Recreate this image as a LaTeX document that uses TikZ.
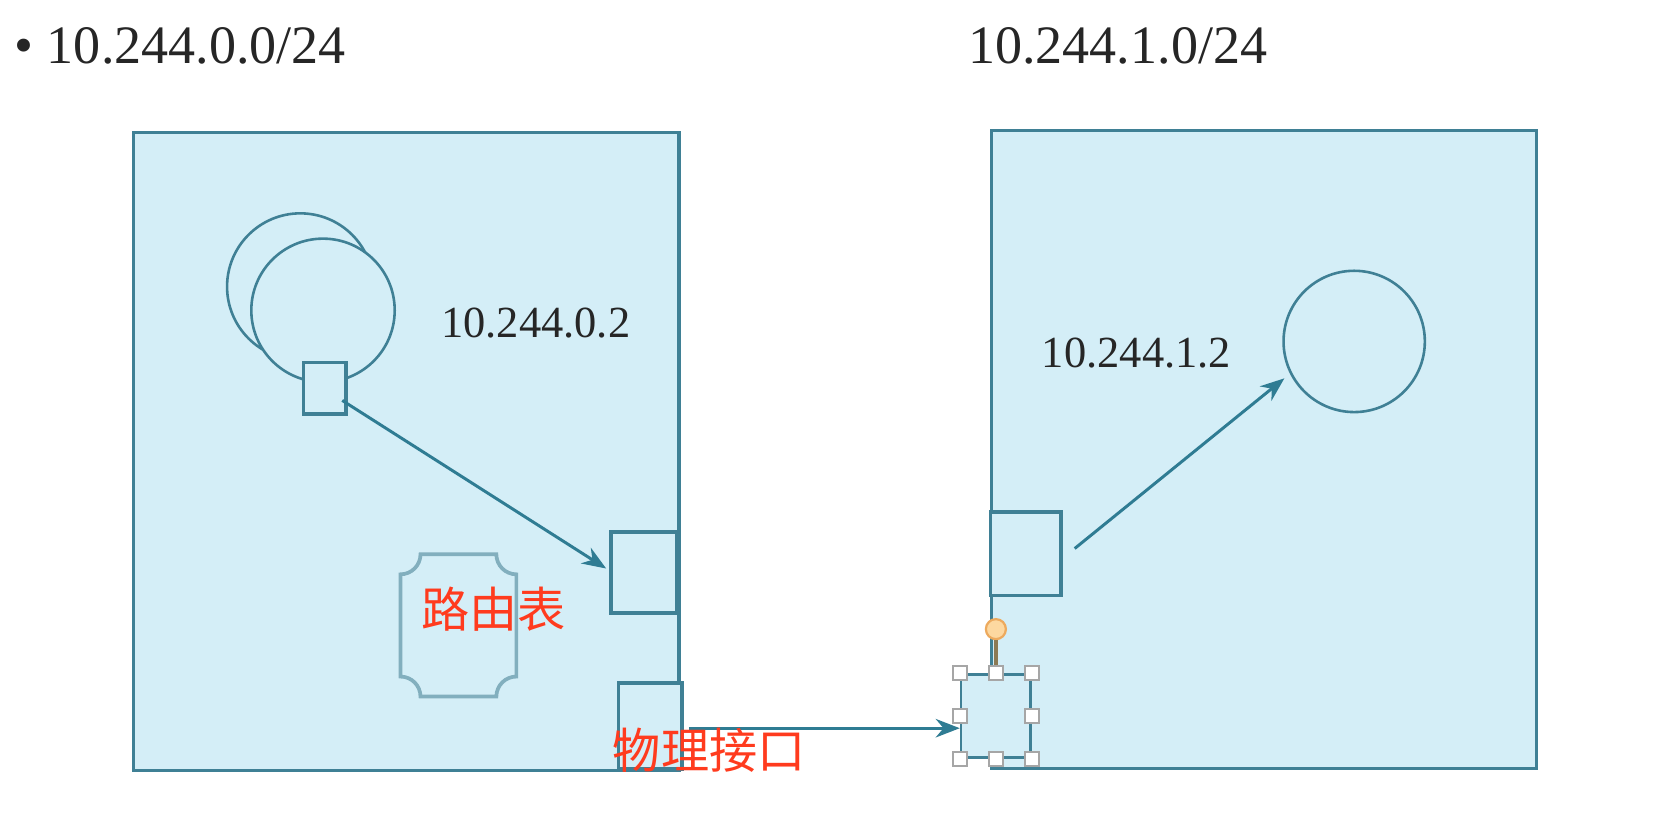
\documentclass[tikz,border=0pt]{standalone}
\usepackage{fontspec}
\setmainfont{Liberation Serif}
\newfontfamily\cjk{Noto Sans CJK SC}
\usepackage{tikz}
\usetikzlibrary{shapes.geometric, arrows.meta}
\definecolor{hostfill}{HTML}{D4EEF7}
\definecolor{hostline}{HTML}{3F8095}
\definecolor{arrowline}{HTML}{2F7C93}
\definecolor{tableline}{HTML}{82AFBE}
\definecolor{notered}{HTML}{FF3B1E}
\definecolor{knobfill}{HTML}{FDD8A0}
\definecolor{knobline}{HTML}{EDAA5E}
\definecolor{knobstem}{HTML}{8C7A55}
\tikzstyle{host} = [rectangle, 
draw=hostline, 
fill=hostfill, 
line width=0.9pt, 
minimum width=5.17cm, 
minimum height=6.05cm]
\tikzstyle{pod} = [circle, 
draw=hostline, 
fill=hostfill, 
line width=0.7pt, 
minimum size=1.36cm]
\tikzstyle{port} = [rectangle, 
draw=hostline, 
fill=hostfill, 
line width=1pt]
\tikzstyle{handle} = [rectangle, 
draw=black!35, 
fill=white, 
line width=0.5pt, 
minimum size=0.13cm, 
inner sep=0pt]
\tikzstyle{knob} = [circle, 
draw=knobline, 
fill=knobfill, 
line width=0.6pt, 
minimum size=0.19cm, 
inner sep=0pt]
\tikzstyle{subnet} = [font=\fontsize{14.6}{17}\selectfont, 
inner sep=0pt, 
anchor=base west, 
text=black!85]
\tikzstyle{podip} = [font=\fontsize{12}{14}\selectfont, 
inner sep=0pt, 
anchor=base west, 
text=black!85]
\tikzstyle{note} = [font=\cjk\fontsize{13}{15}\selectfont, 
text=notered, 
inner sep=0pt]
\tikzstyle{tablebox} = [draw=tableline, line width=1pt]
\tikzstyle{arrow} = [line width=0.8pt, draw=arrowline, ->, >={Stealth[length=6.5pt,width=5pt]}]

\begin{document}
\begin{tikzpicture}[x=0.01cm, y=-0.01cm]
	\useasboundingbox (0,0) rectangle (1569.5,780);
	\node (hostA) [host] at (385.5,428.5) {};
	\node (hostB) [host] at (1199.5,426.5) {};
	\node (subnetA) [subnet] at (13,60) {• 10.244.0.0/24};
	\node (subnetB) [subnet] at (918,60) {10.244.1.0/24};
	\node (podA0) [pod, minimum size=1.39cm] at (285,272) {};
	\node (podA) [pod] at (306.5,294.5) {};
	\node (podB) [pod, minimum size=1.34cm] at (1285,324) {};
	\node (ipA) [podip] at (418,320) {10.244.0.2};
	\node (ipB) [podip] at (988,349) {10.244.1.2};
	\node (podport) [port, minimum width=0.40cm, minimum height=0.49cm] at (308,368.5) {};
	\node (cniA) [port, minimum width=0.62cm, minimum height=0.77cm] at (611,543.5) {};
	\node (ethA) [port, minimum width=0.60cm, minimum height=0.82cm] at (617,689) {};
	\node (cniB) [port, minimum width=0.67cm, minimum height=0.79cm] at (973.5,525.5) {};
	\draw [tablebox] (399,526) -- (471,526) arc[start angle=180, end angle=90, radius=19]
		-- (490,642) arc[start angle=270, end angle=180, radius=19]
		-- (399,661) arc[start angle=360, end angle=270, radius=19]
		-- (380,545) arc[start angle=90, end angle=0, radius=19] -- cycle;
	\node (rtable) [note] at (468.5,578) {路由表};
	\node (ethB) [port, line width=0.7pt, minimum width=0.66cm, minimum height=0.79cm] at (945,679.5) {};
	\node (knob) [knob] at (945,597) {};
	\draw [knobstem, line width=0.9pt] (knob) -- (ethB.north);

	\draw [arrow] ([shift={(-5,11.5)}]podport.east) -- ([shift={(-3,-4)}]cniA.west);
	\coordinate (wireA) at ([shift={(5,2)}]ethA.east);
	\draw [arrow] (wireA) -- (wireA -| ethB.west);
	\draw [arrow] ([shift={(11,-5)}]cniB.east) -- ([shift={(-6,3)}]podB.208);

	\foreach \spot in {north west, north, north east, east, south east, south, south west, west}
		\node (grip \spot) [handle] at (ethB.\spot) {};
	\node (nic) [note] at (673,712) {物理接口};
	\end{tikzpicture}
\end{document}
